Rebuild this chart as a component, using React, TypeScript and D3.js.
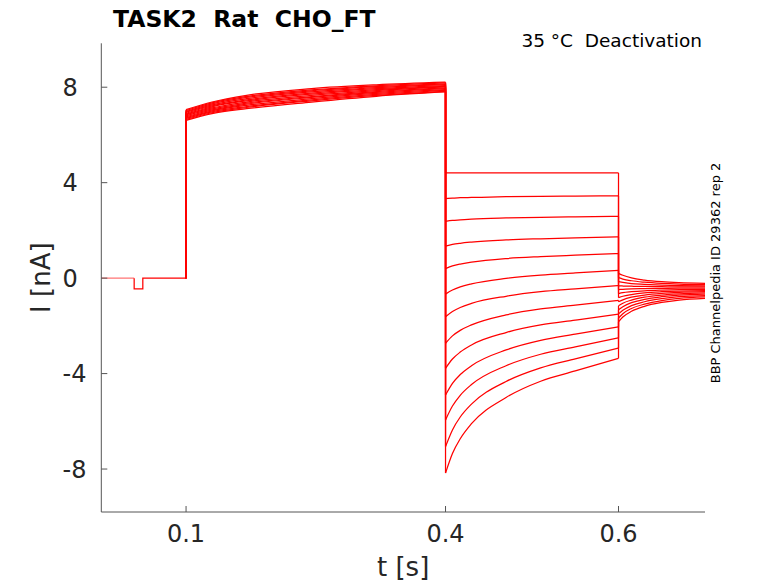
import React from "react";
import * as d3 from "d3";

// holding + prepulse protocol (shared by all sweeps)
const HOLD_T = [0.002, 0.04, 0.04, 0.05, 0.05, 0.1];
const HOLD_I = [0, 0, -0.45, -0.45, 0, 0];

// activation step 0.1 - 0.4 s
const ACT_T = [0.1, 0.13, 0.17, 0.245, 0.32, 0.4];
const ACT_I = [
  [6.61, 6.89, 7.1, 7.38, 7.62, 7.8],
  [6.65, 6.93, 7.15, 7.43, 7.66, 7.83],
  [6.69, 6.97, 7.19, 7.47, 7.7, 7.87],
  [6.72, 7.01, 7.24, 7.52, 7.74, 7.9],
  [6.76, 7.05, 7.29, 7.57, 7.78, 7.94],
  [6.8, 7.09, 7.33, 7.61, 7.82, 7.97],
  [6.84, 7.13, 7.38, 7.66, 7.86, 8.01],
  [6.87, 7.18, 7.43, 7.71, 7.9, 8.04],
  [6.91, 7.22, 7.47, 7.75, 7.94, 8.07],
  [6.95, 7.26, 7.52, 7.8, 7.98, 8.11],
  [6.98, 7.3, 7.57, 7.85, 8.02, 8.14],
  [7.02, 7.34, 7.61, 7.89, 8.06, 8.18],
  [7.06, 7.38, 7.66, 7.94, 8.1, 8.21],
];

// deactivation steps 0.4 - 0.6 s
const DEACT_T = [0.4, 0.408, 0.417, 0.43, 0.47, 0.51, 0.55, 0.6];
const DEACT_I = [
  [4.41, 4.41, 4.41, 4.41, 4.41, 4.41, 4.41, 4.41],
  [3.33, 3.35, 3.37, 3.38, 3.41, 3.43, 3.44, 3.45],
  [2.38, 2.42, 2.44, 2.47, 2.52, 2.55, 2.57, 2.59],
  [1.34, 1.41, 1.46, 1.51, 1.6, 1.65, 1.69, 1.73],
  [0.4, 0.51, 0.59, 0.67, 0.82, 0.9, 0.96, 1.03],
  [-0.67, -0.5, -0.37, -0.24, -0.01, 0.13, 0.22, 0.33],
  [-1.62, -1.4, -1.23, -1.06, -0.76, -0.57, -0.45, -0.31],
  [-2.73, -2.42, -2.19, -1.96, -1.54, -1.29, -1.13, -0.93],
  [-3.78, -3.39, -3.1, -2.8, -2.28, -1.96, -1.76, -1.51],
  [-4.9, -4.41, -4.04, -3.67, -3.01, -2.61, -2.35, -2.04],
  [-5.94, -5.36, -4.91, -4.46, -3.67, -3.19, -2.88, -2.5],
  [-7.06, -6.36, -5.82, -5.28, -4.33, -3.76, -3.38, -2.93],
  [-8.17, -7.35, -6.73, -6.1, -5.0, -4.32, -3.89, -3.36],
];

// tail currents 0.6 - 0.7 s
const TAIL_T = [0.6, 0.605, 0.615, 0.63, 0.65, 0.67, 0.7];
const TAIL_I = [
  [0.2, 0.12, 0.01, -0.08, -0.15, -0.19, -0.22],
  [0.02, -0.04, -0.11, -0.17, -0.22, -0.25, -0.27],
  [-0.15, -0.18, -0.23, -0.26, -0.29, -0.31, -0.32],
  [-0.32, -0.33, -0.34, -0.35, -0.36, -0.37, -0.37],
  [-0.48, -0.47, -0.45, -0.44, -0.43, -0.42, -0.42],
  [-0.65, -0.61, -0.57, -0.53, -0.5, -0.48, -0.47],
  [-0.82, -0.76, -0.69, -0.62, -0.57, -0.54, -0.52],
  [-0.99, -0.91, -0.8, -0.71, -0.64, -0.6, -0.57],
  [-1.16, -1.05, -0.92, -0.8, -0.71, -0.66, -0.62],
  [-1.33, -1.2, -1.03, -0.89, -0.78, -0.71, -0.67],
  [-1.5, -1.35, -1.15, -0.99, -0.86, -0.78, -0.73],
  [-1.67, -1.49, -1.27, -1.09, -0.94, -0.85, -0.79],
  [-1.83, -1.63, -1.39, -1.18, -1.02, -0.92, -0.85],
];

const X_TICKS = [0.1, 0.4, 0.6];
const Y_TICKS = [-8, -4, 0, 4, 8];

const TITLE = "TASK2  Rat  CHO_FT";
const SUBTITLE = "35 °C  Deactivation";
const SIDE_NOTE = "BBP Channelpedia ID 29362 rep 2";

const W = 778;
const H = 583;
const FONT = "DejaVu Sans";
const AXIS_COLOR = "#555";
const TEXT_COLOR = "#262626";
const TRACE = "#ff0000";

export default function App() {
  const x = d3.scaleLinear().domain([0.002, 0.7]).range([101.3, 705]);
  const y = d3.scaleLinear().domain([-9.8, 9.84]).range([512, 43.3]);

  const lin = d3
    .line<[number, number]>()
    .x(d => x(d[0]))
    .y(d => y(d[1]));
  const smooth = d3
    .line<[number, number]>()
    .x(d => x(d[0]))
    .y(d => y(d[1]))
    .curve(d3.curveMonotoneX);

  const zip = (ts: number[], vs: number[]) =>
    ts.map((t, i) => [t, vs[i]] as [number, number]);

  const holdPts = zip(HOLD_T, HOLD_I);
  const x0 = x.range()[0];
  const x1 = x.range()[1];

  return (
    <svg
      width={W}
      height={H}
      style={{ position: "absolute", left: 0, top: 0, display: "block", background: "#fff" }}
      fontFamily={FONT}
    >
      {/* traces */}
      <g fill="none" stroke={TRACE} strokeWidth={1.25}>
        <path d={lin(holdPts.slice(0, 2)) || ""} strokeOpacity={0.55} />
        <path d={lin(holdPts.slice(1)) || ""} />
        {ACT_I.map((vals, k) => {
          const deact = DEACT_I[k];
          const tail = TAIL_I[k];
          return (
            <g key={k}>
              <path d={lin([[0.1, 0], [0.1, vals[0]]]) || ""} />
              <path d={smooth(zip(ACT_T, vals)) || ""} />
              <path d={lin([[0.4, vals[vals.length - 1]], [0.4, deact[0]]]) || ""} />
              <path d={smooth(zip(DEACT_T, deact)) || ""} />
              <path d={lin([[0.6, deact[deact.length - 1]], [0.6, tail[0]]]) || ""} />
              <path d={smooth(zip(TAIL_T, tail)) || ""} />
            </g>
          );
        })}
      </g>

      {/* axes */}
      <g stroke={AXIS_COLOR} strokeWidth={1} fill="none">
        <line x1={x0} x2={x0} y1={y.range()[1]} y2={y.range()[0]} />
        <line x1={x0} x2={x1} y1={y.range()[0]} y2={y.range()[0]} />
        {Y_TICKS.map(v => (
          <line key={v} x1={x0} x2={x0 + 6} y1={y(v)} y2={y(v)} />
        ))}
        {X_TICKS.map(v => (
          <line key={v} x1={x(v)} x2={x(v)} y1={y.range()[0]} y2={y.range()[0] - 6} />
        ))}
      </g>

      <g fill={TEXT_COLOR} fontSize={24}>
        {Y_TICKS.map(v => (
          <text key={v} x={62.5} y={y(v)} dy="0.36em">
            {String(v)}
          </text>
        ))}
        {X_TICKS.map(v => (
          <text key={v} x={x(v)} y={542} textAnchor="middle">
            {String(v)}
          </text>
        ))}
      </g>

      <text x={(x0 + x1) / 2} y={576} textAnchor="middle" fontSize={26} fill={TEXT_COLOR}>
        t [s]
      </text>
      <text
        transform={`translate(50, ${(y.range()[0] + y.range()[1]) / 2}) rotate(-90)`}
        textAnchor="middle"
        fontSize={26}
        fill={TEXT_COLOR}
      >
        I [nA]
      </text>

      <text x={113} y={26.5} fontSize={23.5} fontWeight="bold" fill="#000" style={{ whiteSpace: "pre" }}>
        {TITLE}
      </text>
      <text x={702} y={47.3} textAnchor="end" fontSize={18.5} fill="#000" style={{ whiteSpace: "pre" }}>
        {SUBTITLE}
      </text>
      <text
        transform="translate(720, 273) rotate(-90)"
        textAnchor="middle"
        fontSize={13}
        fill="#000"
      >
        {SIDE_NOTE}
      </text>
    </svg>
  );
}
